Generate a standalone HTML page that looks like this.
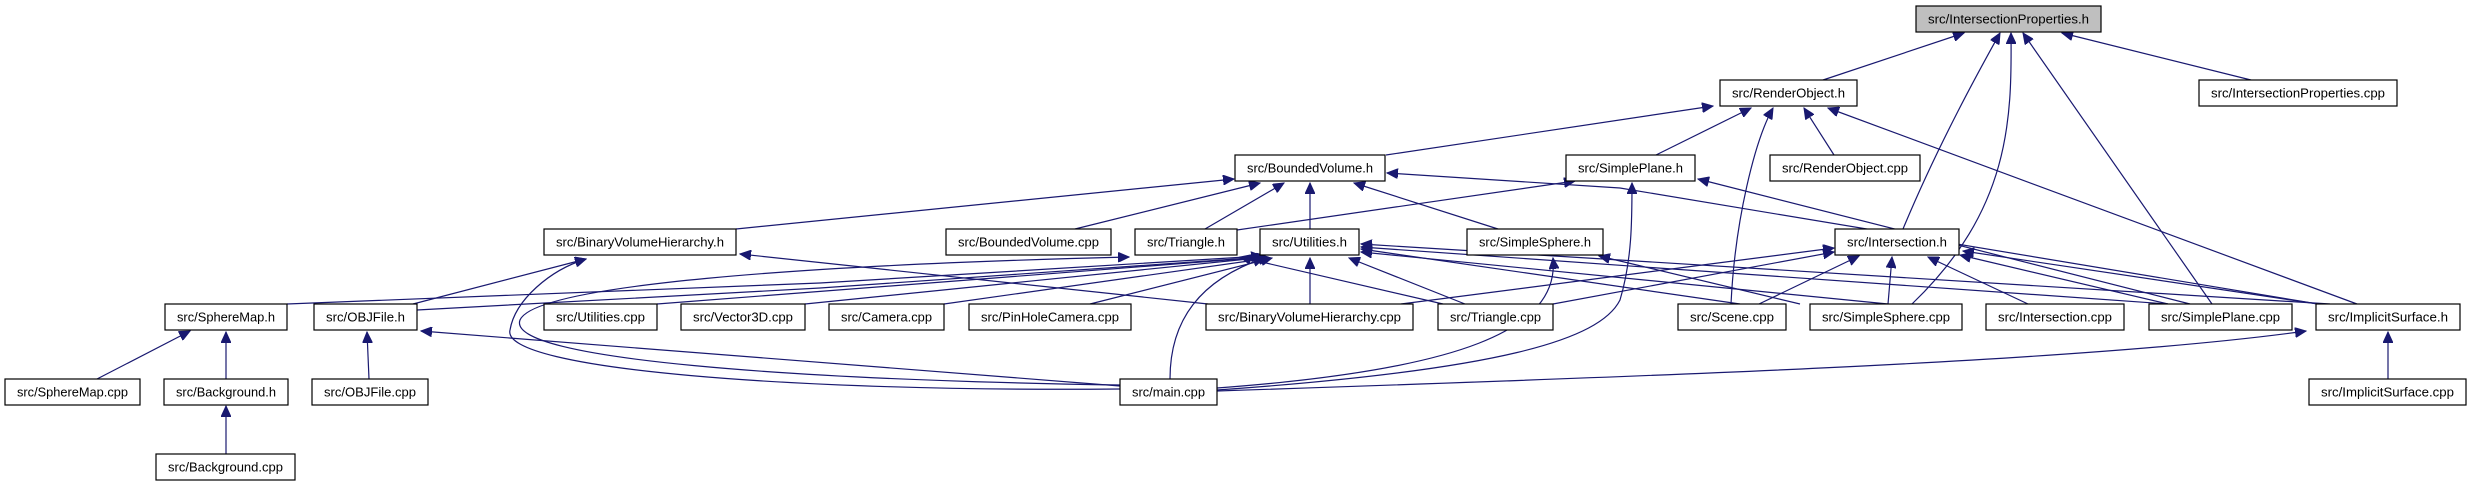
<!DOCTYPE html>
<html><head><meta charset="utf-8"><style>
html,body{margin:0;padding:0;background:#fff;}
svg{display:block;}
text{font-family:"Liberation Sans",sans-serif;font-size:12.5px;fill:#000;}
rect{fill:#fff;stroke:#000;stroke-width:1.2;}
path{fill:none;stroke:#191970;stroke-width:1.2;}
</style></head><body>
<svg width="2467" height="485" viewBox="0 0 2467 485" xmlns="http://www.w3.org/2000/svg">
<defs>
<marker id="a" markerUnits="userSpaceOnUse" markerWidth="12" markerHeight="10" refX="11" refY="5" orient="auto">
<path d="M0,0 L11,5 L0,10 Z" style="fill:#191970;stroke:#191970;stroke-width:1"/>
</marker>
</defs>
<g marker-end="url(#a)">
<!-- IntersectionProperties.h -->
<path d="M1823,80 L1964,33"/>
<path d="M1903,229 C1940,140 1985,60 2000,33"/>
<path d="M1912,304 C2010,210 2012,120 2011,33"/>
<path d="M2212,304 L2023,33"/>
<path d="M2251,80 L2062,33"/>
<!-- RenderObject.h -->
<path d="M1386,155 L1713,106"/>
<path d="M1656,155 L1751,108"/>
<path d="M1731,304 C1735,220 1755,140 1773,108"/>
<path d="M1834,155 L1804,108"/>
<path d="M2357,304 L1828,108"/>
<!-- BoundedVolume.h -->
<path d="M736,229 L1234,179"/>
<path d="M1075,229 L1260,183"/>
<path d="M1205,229 L1284,183"/>
<path d="M1310,229 L1310,183"/>
<path d="M1498,229 L1354,183"/>
<path d="M2318,304 L1620,188 L1387,173"/>
<!-- SimplePlane.h -->
<path d="M1237,230 L1575,181"/>
<path d="M1217,390 C1500,370 1600,340 1620,300 C1632,260 1632,220 1632,183"/>
<path d="M2190,304 L1698,179"/>
<!-- Intersection.h -->
<path d="M1759,304 L1859,256"/>
<path d="M1888,304 L1892,257"/>
<path d="M2028,304 L1928,257"/>
<path d="M2168,304 L1960,255"/>
<path d="M2318,304 L1963,251"/>
<path d="M1553,304 L1834,252"/>
<path d="M1401,304 L1834,248"/>
<!-- Utilities.h -->
<path d="M287,304 L820,283 L1262,256"/>
<path d="M417,310 L820,288 L1264,257"/>
<path d="M657,304 L1266,257"/>
<path d="M805,304 L1268,257"/>
<path d="M944,304 L1270,258"/>
<path d="M1090,304 L1272,258"/>
<path d="M1170,379 C1170,320 1200,280 1264,258"/>
<path d="M1310,304 L1310,258"/>
<path d="M1465,304 L1349,258"/>
<path d="M1740,304 L1361,249"/>
<path d="M1888,304 L1361,252"/>
<path d="M2168,304 L1361,247"/>
<path d="M2330,304 L1361,244"/>
<!-- Triangle.h -->
<path d="M1443,304 L1240,257"/>
<path d="M1120,385 C800,380 505,360 520,320 C535,285 800,265 1129,257"/>
<!-- SimpleSphere.h -->
<path d="M1217,388 C1460,370 1560,330 1553,258"/>
<path d="M1800,304 L1599,256"/>
<!-- BinaryVolumeHierarchy.h -->
<path d="M413,304 L586,259"/>
<path d="M1120,389 C800,392 500,370 510,330 C515,300 550,270 586,259"/>
<path d="M1208,304 L740,254"/>
<!-- OBJFile.h -->
<path d="M1120,386 L421,331"/>
<path d="M369,379 L367,332"/>
<!-- SphereMap.h -->
<path d="M97,379 L190,331"/>
<path d="M226,379 L226,332"/>
<path d="M226,454 L226,406"/>
<!-- ImplicitSurface.h -->
<path d="M2388,379 L2388,332"/>
<path d="M1217,391 C1700,375 2100,360 2306,331"/>
</g>
<!-- nodes -->
<rect x="1916" y="6" width="185" height="26" style="fill:#bfbfbf"/><text x="2008.5" y="23.5" text-anchor="middle" textLength="161" lengthAdjust="spacingAndGlyphs">src/IntersectionProperties.h</text>
<rect x="1720" y="80" width="137" height="26"/><text x="1788.5" y="97.5" text-anchor="middle" textLength="113" lengthAdjust="spacingAndGlyphs">src/RenderObject.h</text>
<rect x="2199" y="80" width="198" height="26"/><text x="2298" y="97.5" text-anchor="middle" textLength="174" lengthAdjust="spacingAndGlyphs">src/IntersectionProperties.cpp</text>
<rect x="1235" y="155" width="150" height="26"/><text x="1310" y="172.5" text-anchor="middle" textLength="126" lengthAdjust="spacingAndGlyphs">src/BoundedVolume.h</text>
<rect x="1566" y="155" width="129" height="26"/><text x="1630.5" y="172.5" text-anchor="middle" textLength="105" lengthAdjust="spacingAndGlyphs">src/SimplePlane.h</text>
<rect x="1770" y="155" width="150" height="26"/><text x="1845" y="172.5" text-anchor="middle" textLength="126" lengthAdjust="spacingAndGlyphs">src/RenderObject.cpp</text>
<rect x="544" y="229" width="192" height="26"/><text x="640" y="246.5" text-anchor="middle" textLength="168" lengthAdjust="spacingAndGlyphs">src/BinaryVolumeHierarchy.h</text>
<rect x="946" y="229" width="165" height="26"/><text x="1028.5" y="246.5" text-anchor="middle" textLength="141" lengthAdjust="spacingAndGlyphs">src/BoundedVolume.cpp</text>
<rect x="1135" y="229" width="102" height="26"/><text x="1186" y="246.5" text-anchor="middle" textLength="78" lengthAdjust="spacingAndGlyphs">src/Triangle.h</text>
<rect x="1260" y="229" width="99" height="26"/><text x="1309.5" y="246.5" text-anchor="middle" textLength="75" lengthAdjust="spacingAndGlyphs">src/Utilities.h</text>
<rect x="1467" y="229" width="136" height="26"/><text x="1535" y="246.5" text-anchor="middle" textLength="112" lengthAdjust="spacingAndGlyphs">src/SimpleSphere.h</text>
<rect x="1835" y="229" width="124" height="26"/><text x="1897" y="246.5" text-anchor="middle" textLength="100" lengthAdjust="spacingAndGlyphs">src/Intersection.h</text>
<rect x="165" y="304" width="122" height="26"/><text x="226" y="321.5" text-anchor="middle" textLength="98" lengthAdjust="spacingAndGlyphs">src/SphereMap.h</text>
<rect x="314" y="304" width="103" height="26"/><text x="365.5" y="321.5" text-anchor="middle" textLength="79" lengthAdjust="spacingAndGlyphs">src/OBJFile.h</text>
<rect x="544" y="304" width="113" height="26"/><text x="600.5" y="321.5" text-anchor="middle" textLength="89" lengthAdjust="spacingAndGlyphs">src/Utilities.cpp</text>
<rect x="681" y="304" width="124" height="26"/><text x="743" y="321.5" text-anchor="middle" textLength="100" lengthAdjust="spacingAndGlyphs">src/Vector3D.cpp</text>
<rect x="829" y="304" width="115" height="26"/><text x="886.5" y="321.5" text-anchor="middle" textLength="91" lengthAdjust="spacingAndGlyphs">src/Camera.cpp</text>
<rect x="969" y="304" width="162" height="26"/><text x="1050" y="321.5" text-anchor="middle" textLength="138" lengthAdjust="spacingAndGlyphs">src/PinHoleCamera.cpp</text>
<rect x="1206" y="304" width="207" height="26"/><text x="1309.5" y="321.5" text-anchor="middle" textLength="183" lengthAdjust="spacingAndGlyphs">src/BinaryVolumeHierarchy.cpp</text>
<rect x="1438" y="304" width="115" height="26"/><text x="1495.5" y="321.5" text-anchor="middle" textLength="91" lengthAdjust="spacingAndGlyphs">src/Triangle.cpp</text>
<rect x="1678" y="304" width="108" height="26"/><text x="1732" y="321.5" text-anchor="middle" textLength="84" lengthAdjust="spacingAndGlyphs">src/Scene.cpp</text>
<rect x="1810" y="304" width="152" height="26"/><text x="1886" y="321.5" text-anchor="middle" textLength="128" lengthAdjust="spacingAndGlyphs">src/SimpleSphere.cpp</text>
<rect x="1986" y="304" width="138" height="26"/><text x="2055" y="321.5" text-anchor="middle" textLength="114" lengthAdjust="spacingAndGlyphs">src/Intersection.cpp</text>
<rect x="2149" y="304" width="143" height="26"/><text x="2220.5" y="321.5" text-anchor="middle" textLength="119" lengthAdjust="spacingAndGlyphs">src/SimplePlane.cpp</text>
<rect x="2316" y="304" width="144" height="26"/><text x="2388" y="321.5" text-anchor="middle" textLength="120" lengthAdjust="spacingAndGlyphs">src/ImplicitSurface.h</text>
<rect x="5" y="379" width="135" height="26"/><text x="72.5" y="396.5" text-anchor="middle" textLength="111" lengthAdjust="spacingAndGlyphs">src/SphereMap.cpp</text>
<rect x="164" y="379" width="124" height="26"/><text x="226" y="396.5" text-anchor="middle" textLength="100" lengthAdjust="spacingAndGlyphs">src/Background.h</text>
<rect x="312" y="379" width="116" height="26"/><text x="370" y="396.5" text-anchor="middle" textLength="92" lengthAdjust="spacingAndGlyphs">src/OBJFile.cpp</text>
<rect x="1120" y="379" width="97" height="26"/><text x="1168.5" y="396.5" text-anchor="middle" textLength="73" lengthAdjust="spacingAndGlyphs">src/main.cpp</text>
<rect x="2309" y="379" width="157" height="26"/><text x="2387.5" y="396.5" text-anchor="middle" textLength="133" lengthAdjust="spacingAndGlyphs">src/ImplicitSurface.cpp</text>
<rect x="156" y="454" width="139" height="26"/><text x="225.5" y="471.5" text-anchor="middle" textLength="115" lengthAdjust="spacingAndGlyphs">src/Background.cpp</text>
</svg>
</body></html>
